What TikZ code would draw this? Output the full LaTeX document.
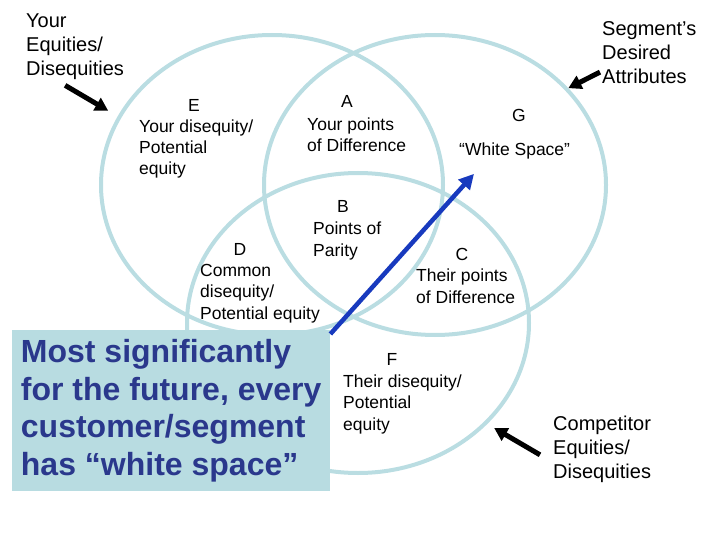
\documentclass[tikz,border=0pt]{standalone}
\usepackage{fontspec}
\setmainfont{Liberation Sans}
\usepackage{xcolor}
\usetikzlibrary{arrows.meta,positioning,shapes.geometric}
\definecolor{ringblue}{RGB}{186,221,226}
\definecolor{boxblue}{RGB}{184,220,225}
\definecolor{navytext}{RGB}{42,56,140}
\definecolor{arrowblue}{RGB}{24,58,190}

\begin{document}
\begin{tikzpicture}[x=1pt, y=-1pt,
  ring/.style={ellipse, draw=ringblue, line width=4pt, minimum width=342pt, minimum height=300pt, inner sep=0pt},
  caption/.style={align=left, inner sep=0pt, anchor=base west, font=\fontsize{20}{24}\selectfont},
  region/.style={align=left, inner sep=0pt, anchor=base west, font=\fontsize{17.5}{21.3}\selectfont},
  letter/.style={inner sep=0pt, anchor=base, font=\fontsize{17.5}{21}\selectfont},
  message/.style={fill=boxblue, text=navytext, font=\bfseries\fontsize{32}{37.7}\selectfont, align=left, minimum width=318pt, minimum height=161pt},
  pointer/.style={-{Triangle[length=13pt,width=14pt]}, line width=5pt},
  highlight/.style={-{Triangle[length=15pt,width=15pt]}, line width=4.5pt, draw=arrowblue, fill=arrowblue}
]
\useasboundingbox (0,0) rectangle (720,540);
% the three circles
\node[ring] (yours) at (272,185) {};
\node[ring] (segment) at (435,185) {};
\node[ring] (comp) at (358,323) {};

% outside captions (placed by last baseline)
\node[caption] (yeq) at (26,76) {Your\\Equities/\\Disequities};
\node[caption] (sda) at (602,84) {Segment’s\\Desired\\Attributes};
\node[caption] (ced) at (553,478) {Competitor\\Equities/\\Disequities};

% regions
\node[letter] (E) at (194,112) {E};
\node[region] (Etxt) at (139,175) {Your disequity/\\Potential\\equity};
\node[letter] (A) at (347,108) {A};
\node[region] (Atxt) at (307,152) {Your points\\of Difference};
\node[letter] (G) at (519,122) {G};
\node[region] (ws) at (459,156) {“White Space”};
\node[letter] (B) at (343,213) {B};
\node[region] (Btxt) at (313,256) {Points of\\Parity};
\node[letter] (D) at (240,255) {D};
\node[region] (Dtxt) at (200,319) {Common\\disequity/\\Potential equity};
\node[letter] (C) at (462,260) {C};
\node[region] (Ctxt) at (416,303) {Their points\\of Difference};
\node[letter] (F) at (392,365) {F};
\node[region] (Ftxt) at (343,430) {Their disequity/\\Potential\\equity};

% the message box
\node[message, anchor=north west] (msg) at (12,330) {Most significantly\\for the future, every\\customer/segment\\has “white space”};

% arrows
\draw[pointer] ([xshift=-10pt,yshift=-5pt]yeq.south) -- (yours.156) [shorten >=11pt];
\draw[pointer] ([xshift=-2pt,yshift=-19pt]sda.west) -- (segment.36);
\draw[pointer] ([xshift=-13pt,yshift=-6pt]ced.west) -- (comp.-38) [shorten >=8pt];
\draw[highlight] ([yshift=-4pt]msg.north east) -- ([xshift=15pt,yshift=-14pt]ws.south west);
\end{tikzpicture}
\end{document}
